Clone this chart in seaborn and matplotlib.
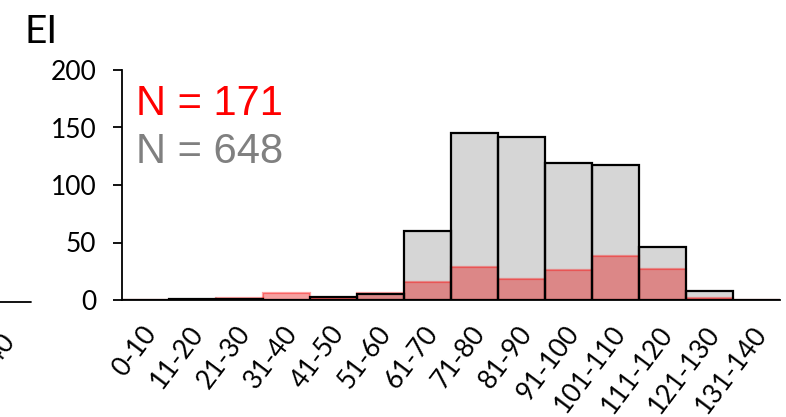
import matplotlib
matplotlib.use("Agg")
import matplotlib.pyplot as plt
import matplotlib.transforms as mtransforms
from matplotlib.lines import Line2D
import seaborn as sns
import pandas as pd

# data
bins = ['0-10', '11-20', '21-30', '31-40', '41-50', '51-60', '61-70',
        '71-80', '81-90', '91-100', '101-110', '111-120', '121-130', '131-140']
all_counts = [0, 1, 1, 0, 3, 5, 60, 145, 142, 119, 117, 46, 8, 0]
ei_counts = [0, 0, 2, 6, 2, 6, 16, 29, 18, 26, 38, 27, 2, 0]
n_ei = 171
n_all = 648

df = pd.DataFrame({'bin': bins, 'all': all_counts, 'ei': ei_counts})

sns.set_style('white')
plt.rcParams['font.family'] = ['Lato', 'DejaVu Sans']
plt.rcParams['text.color'] = 'black'

fig = plt.figure(figsize=(7.86, 4.17), dpi=100)
ax = fig.add_axes([122 / 786, 117 / 417, 658 / 786, 230 / 417])

# grey bars (all), red translucent bars on top, then black outlines again
sns.barplot(data=df, x='bin', y='all', order=bins, color='#d6d6d6',
            width=1.0, errorbar=None, saturation=1, linewidth=0,
            ax=ax, zorder=1)
sns.barplot(data=df, x='bin', y='ei', order=bins, color='#e80000',
            alpha=0.37, width=1.0, errorbar=None, saturation=1,
            edgecolor='#ff0000', linewidth=1.6, ax=ax, zorder=2)
sns.barplot(data=df, x='bin', y='all', order=bins, fill=False,
            edgecolor='black', width=1.0, errorbar=None,
            linewidth=1.6, ax=ax, zorder=3)

ax.set_xlim(-0.5, 13.5)
ax.set_ylim(0, 200)
ax.set_yticks([0, 50, 100, 150, 200])
ax.set_xlabel('')
ax.set_ylabel('')
sns.despine(ax=ax)
ax.spines['left'].set_linewidth(1.3)
ax.spines['bottom'].set_linewidth(1.3)
ax.spines['left'].set_color('black')
ax.spines['bottom'].set_color('black')
ax.tick_params(axis='y', which='both', left=True, length=6.5, width=1.3,
               labelsize=19, pad=12, colors='black')
ax.tick_params(axis='x', bottom=False, labelsize=19, pad=2,
               labelcolor='black')

offset = mtransforms.ScaledTranslation(-3 / 72, -10 / 72, fig.dpi_scale_trans)
for lab in ax.get_xticklabels():
    lab.set_rotation(53)
    lab.set_ha('right')
    lab.set_va('top')
    lab.set_rotation_mode('anchor')
    lab.set_transform(lab.get_transform() + offset)

ax.text(0.022, 0.804, f'N = {n_ei}', transform=ax.transAxes, color='#ff0000',
        fontsize=30, family='Liberation Sans', va='baseline', ha='left')
ax.text(0.022, 0.596, f'N = {n_all}', transform=ax.transAxes, color='#808080',
        fontsize=30, family='Liberation Sans', va='baseline', ha='left')

fig.text(24 / 786, 1 - 43 / 417, 'EI', fontsize=28, ha='left', va='baseline')

# fragment of the neighbouring panel at the left edge
fig.add_artist(Line2D([0, 31 / 786], [1 - 302 / 417, 1 - 302 / 417],
                      transform=fig.transFigure, color='black', lw=1.3))
fig.text(0, 1 - 328 / 417, '131-140', fontsize=19, rotation=53,
         ha='right', va='top', rotation_mode='anchor')

fig.savefig('out.png', dpi=100)
